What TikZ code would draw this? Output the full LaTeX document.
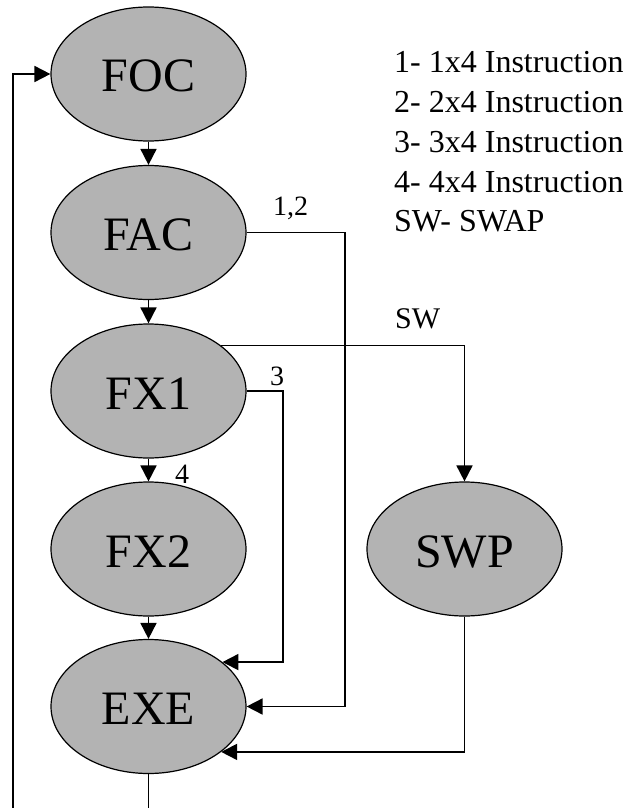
\documentclass[tikz,border=0pt]{standalone}
\usepackage{fontspec}
\setmainfont{Liberation Serif}
\usetikzlibrary{shapes.geometric,arrows.meta}
\definecolor{stagefill}{RGB}{179,179,179}
\begin{document}
\begin{tikzpicture}[x=1pt,y=-1pt,
  stage/.style={ellipse,draw=black,line width=1.2pt,fill=stagefill,
    minimum width=195pt,minimum height=134pt,inner sep=0pt,
    font=\fontsize{48}{48}\selectfont,text height=36pt,text depth=0pt},
  flow/.style={line width=1.8pt,-{Triangle[length=16pt,width=16pt]}},
  tag/.style={anchor=base west,inner sep=0pt,font=\fontsize{28}{28}\selectfont},
  legend/.style={anchor=base west,inner sep=0pt,font=\fontsize{32}{32}\selectfont}]
\useasboundingbox (0,0) rectangle (627,808);
\clip (0,0) rectangle (627,808);

% pipeline stages
\node[stage] (FOC) at (148.5,74)    {FOC};
\node[stage] (FAC) at (148.5,232.5) {FAC};
\node[stage] (FX1) at (148.5,391)   {FX1};
\node[stage] (FX2) at (148.5,549)   {FX2};
\node[stage] (EXE) at (148.5,706.5) {EXE};
\node[stage] (SWP) at (464.5,549)   {SWP};

% main flow
\draw[flow] (FOC) -- (FAC);
\draw[flow] (FAC) -- (FX1);
\draw[flow] (FX1) -- (FX2);
\draw[flow] (FX2) -- (EXE);

% bypass paths
\draw[flow] (FAC.east) -- ++(98,0) |- (EXE.east);
\draw[flow] (FX1.east) -- ++(36,0) |- (EXE.31);
\draw[flow] (FX1.32) -| (SWP.north);
\draw[flow] (SWP.south) |- (EXE.-32);

% return loop
\coordinate (loopL) at (13.3,840);
\draw[flow] (EXE.south) |- (loopL) |- (FOC.west);

% path labels
\node[tag] (t12) at (273,215) {1,2};
\node[tag] (t3)  at (270,385) {3};
\node[tag] (t4)  at (175,483) {4};
\node[tag,font=\fontsize{30}{30}\selectfont] (tsw) at (395,328) {SW};

% legend
\node[legend] (leg1) at (394,72)  {1- 1x4 Instruction};
\node[legend] (leg2) at (394,112) {2- 2x4 Instruction};
\node[legend] (leg3) at (394,152) {3- 3x4 Instruction};
\node[legend] (leg4) at (394,192) {4- 4x4 Instruction};
\node[legend] (leg5) at (394,231) {SW- SWAP};
\end{tikzpicture}
\end{document}
